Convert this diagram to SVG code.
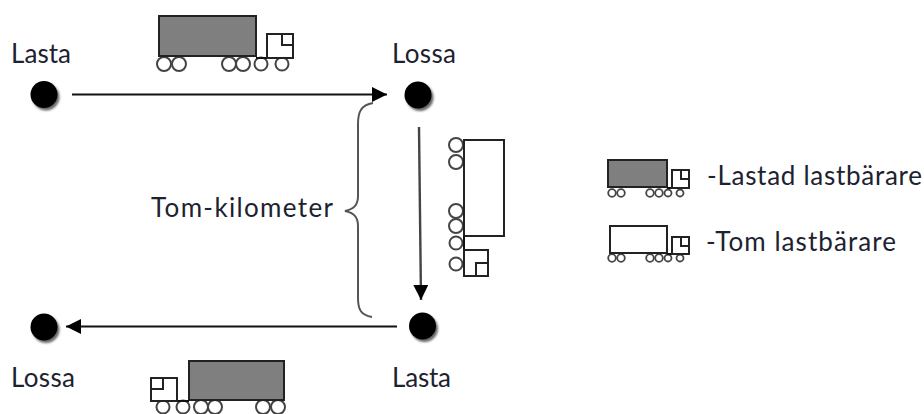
<svg xmlns="http://www.w3.org/2000/svg" width="924" height="414" viewBox="0 0 924 414">
<style>
text{font-family:"Lato","Noto Sans","DejaVu Sans",sans-serif;font-size:26px;fill:#1c2230}
.dot{fill:#000}
.shadow{fill:#666;filter:url(#soft)}
.box{fill:#fff;stroke:#222;stroke-width:2}
.full{fill:#7f7f7f;stroke:#222;stroke-width:2}
.w{fill:#fff;stroke:#444;stroke-width:2}
.sbox{fill:#fff;stroke:#222;stroke-width:2}
.sfull{fill:#7f7f7f;stroke:#222;stroke-width:2}
.sw{fill:#fff;stroke:#444;stroke-width:1.800}
.c{fill:none;stroke:#111;stroke-width:2}
.v{fill:none;stroke:#444;stroke-width:2.400}
.b{fill:none;stroke:#555;stroke-width:2}
</style>
<defs>
<filter id="soft" x="-30%" y="-30%" width="160%" height="160%"><feGaussianBlur stdDeviation="1.200"/></filter>
<marker id="a" markerWidth="16" markerHeight="16" refX="15" refY="7.500" orient="auto" markerUnits="userSpaceOnUse"><path d="M0 0L15 7.500L0 15Z" fill="#000"/></marker>
</defs>
<g id="connectors">
<path class="c" d="M72 94.500H387" marker-end="url(#a)"/>
<path class="v" d="M419 127L421 300" marker-end="url(#a)"/>
<path class="c" d="M397 326.500H66" marker-end="url(#a)"/>
<path class="b" d="M373 103C361 105 358 112 358 124V196C358 205 354 209 345 211C354 213 358 217 358 226V298C358 310 361 315 372 317"/>
</g>
<g id="n1"><circle class="shadow" cx="46" cy="97" r="13.500"/><circle class="dot" cx="44" cy="94.500" r="13.500"/><text x="11" y="63" textLength="60">Lasta</text></g>
<g id="n2"><circle class="shadow" cx="420" cy="97.500" r="13.500"/><circle class="dot" cx="418" cy="95" r="13.500"/><text x="392" y="63" textLength="64">Lossa</text></g>
<g id="n3"><circle class="shadow" cx="424.500" cy="328.500" r="13.500"/><circle class="dot" cx="422.500" cy="326" r="13.500"/><text x="392" y="387" textLength="59">Lasta</text></g>
<g id="n4"><circle class="shadow" cx="46" cy="329.500" r="13.500"/><circle class="dot" cx="44" cy="327" r="13.500"/><text x="11" y="387" textLength="64">Lossa</text></g>
<g id="truck-top">
<circle class="w" cx="164" cy="64" r="7"/><circle class="w" cx="179" cy="64" r="7"/><circle class="w" cx="229" cy="64" r="7"/><circle class="w" cx="243" cy="64" r="7"/><circle class="w" cx="261" cy="64" r="6.500"/><circle class="w" cx="282" cy="64" r="6.500"/>
<rect class="full" x="159" y="16" width="97" height="40"/>
<path class="c" d="M256 58H267"/>
<rect class="box" x="267" y="34" width="26" height="24"/>
<path class="box" d="M282 34V45H293"/>
</g>
<g id="truck-right">
<circle class="w" cx="456" cy="145" r="7"/><circle class="w" cx="456" cy="162" r="7"/><circle class="w" cx="456" cy="211" r="7"/><circle class="w" cx="456" cy="226" r="7"/><circle class="w" cx="456" cy="243" r="6.500"/><circle class="w" cx="456" cy="264" r="6.500"/>
<rect class="box" x="464" y="140" width="40" height="96"/>
<path class="c" d="M464 236V250"/>
<rect class="box" x="464" y="250" width="24" height="26"/>
<path class="box" d="M476 276V263H488"/>
</g>
<g id="truck-bottom">
<circle class="w" cx="163" cy="407" r="6.500"/><circle class="w" cx="183" cy="407" r="6.500"/><circle class="w" cx="201" cy="407" r="7"/><circle class="w" cx="215" cy="407" r="7"/><circle class="w" cx="263" cy="407" r="7"/><circle class="w" cx="278" cy="407" r="7"/>
<rect class="full" x="189" y="361" width="95" height="39"/>
<path class="c" d="M177 401H189"/>
<rect class="box" x="151" y="378" width="26" height="23"/>
<path class="box" d="M151 389H163V378"/>
</g>
<g id="legend-full">
<circle class="sw" cx="612" cy="193" r="3.800"/><circle class="sw" cx="621" cy="193" r="3.800"/><circle class="sw" cx="650" cy="193" r="3.800"/><circle class="sw" cx="659" cy="193" r="3.800"/><circle class="sw" cx="668" cy="193" r="3.500"/><circle class="sw" cx="680" cy="193" r="3.500"/>
<rect class="sfull" x="608" y="160" width="59" height="27"/>
<path class="c" d="M667 188H672"/>
<rect class="sbox" x="672" y="170" width="17" height="18"/>
<path class="sbox" d="M681 170V179H689"/>
<text x="707" y="185" textLength="215">-Lastad lastbärare</text>
</g>
<g id="legend-empty">
<circle class="sw" cx="612" cy="258" r="3.800"/><circle class="sw" cx="621" cy="258" r="3.800"/><circle class="sw" cx="650" cy="258" r="3.800"/><circle class="sw" cx="659" cy="258" r="3.800"/><circle class="sw" cx="668" cy="258" r="3.500"/><circle class="sw" cx="680" cy="258" r="3.500"/>
<rect class="sbox" x="610" y="226" width="57" height="27"/>
<path class="c" d="M667 254H672"/>
<rect class="sbox" x="672" y="237" width="17" height="17"/>
<path class="sbox" d="M681 237V246H689"/>
<text x="706" y="251" textLength="190">-Tom lastbärare</text>
</g>
<g id="label"><text x="151" y="217" textLength="182">Tom-kilometer</text></g>
</svg>
